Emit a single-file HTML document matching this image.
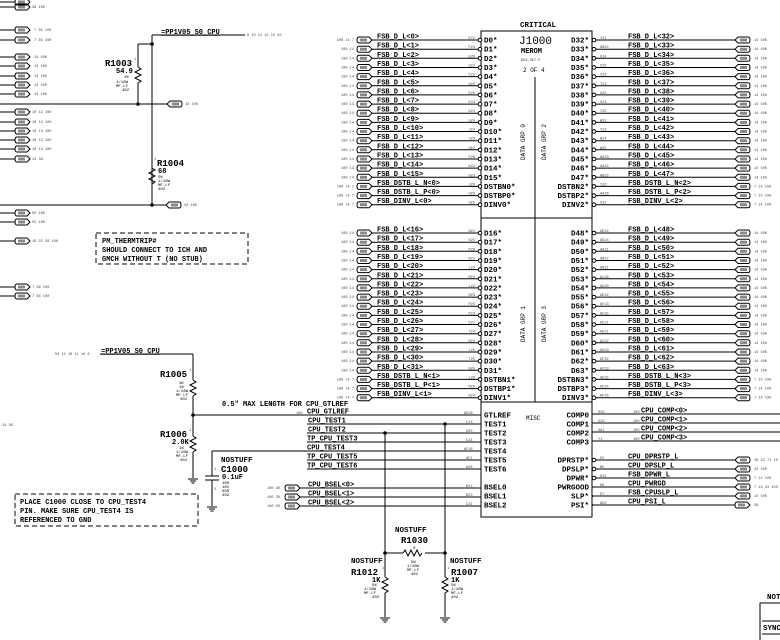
<!DOCTYPE html>
<html><head><meta charset="utf-8"><style>
html,body{margin:0;padding:0;background:#fff}
svg{display:block}
line,polyline,path,rect.b{stroke:#000;stroke-width:1;fill:none}
text{font-family:"Liberation Mono",monospace;fill:#000}
.n{font-size:7px;text-decoration:underline;font-weight:bold}
.p{font-size:7.5px;font-weight:bold}
.s{font-size:3.6px;fill:#444}
.r{font-size:9px;font-weight:bold}
.v{font-size:7px;font-weight:bold}
.t{font-size:4px}
</style></head><body>
<svg width="780" height="640" viewBox="0 0 780 640" xmlns="http://www.w3.org/2000/svg">
<defs>
<g id="c"><path d="M2,0 H12 L15,3 L12,6 H2 Q0,6 0,3 Q0,0 2,0 Z" fill="#000" stroke="#000"/><rect x="3" y="1.5" width="7" height="3" fill="#888"/></g>
<g id="cr"><path d="M3,0 H13 Q15,0 15,3 Q15,6 13,6 H3 L0,3 Z" fill="#000" stroke="#000"/><rect x="5" y="1.5" width="7" height="3" fill="#888"/></g>
<g id="gnd"><line x1="-5" y1="0" x2="5" y2="0"/><line x1="-3" y1="2" x2="3" y2="2"/><line x1="-1.5" y1="4" x2="1.5" y2="4"/></g>
</defs>

<!-- Chip -->
<text x="520" y="27" class="p">CRITICAL</text>
<rect class="b" x="481" y="31" width="111" height="486"/>
<line x1="535" y1="77" x2="535" y2="402"/>
<line x1="481" y1="218" x2="592" y2="218"/>
<line x1="481" y1="402" x2="592" y2="402"/>
<text x="519" y="44" style="font-size:11px">J1000</text>
<text x="521" y="53" style="font-size:7px;font-weight:bold">MEROM</text>
<text x="521" y="61" class="s">BGA-SKT-P</text>
<text x="523" y="72" style="font-size:6px">2 OF 4</text>
<text transform="translate(525,160) rotate(-90)" style="font-size:6px">DATA GRP 0</text>
<text transform="translate(546,160) rotate(-90)" style="font-size:6px">DATA GRP 2</text>
<text transform="translate(525,342) rotate(-90)" style="font-size:6px">DATA GRP 1</text>
<text transform="translate(546,342) rotate(-90)" style="font-size:6px">DATA GRP 3</text>
<text x="526" y="420" style="font-size:6px">MISC</text>

<!-- LEFT GROUP 0 -->
<g id="L0">
<text x="354" y="41" class="s" text-anchor="end">100 14 7</text><use href="#c" x="357" y="37"/><line x1="372" y1="40" x2="478" y2="40"/><text x="377" y="38.5" class="n">FSB_D_L&lt;0&gt;</text><text x="475" y="39" class="s" text-anchor="end">E22</text><circle cx="480" cy="40" r="1.8" fill="#fff" stroke="#000"/><text x="484" y="42.5" class="p">D0*</text>
<text x="354" y="50.2" class="s" text-anchor="end">100 14</text><use href="#c" x="357" y="46.2"/><line x1="372" y1="49.2" x2="478" y2="49.2"/><text x="377" y="47.7" class="n">FSB_D_L&lt;1&gt;</text><text x="475" y="48.2" class="s" text-anchor="end">F24</text><circle cx="480" cy="49.2" r="1.8" fill="#fff" stroke="#000"/><text x="484" y="51.7" class="p">D1*</text>
<text x="354" y="59.3" class="s" text-anchor="end">100 14</text><use href="#c" x="357" y="55.3"/><line x1="372" y1="58.3" x2="478" y2="58.3"/><text x="377" y="56.8" class="n">FSB_D_L&lt;2&gt;</text><text x="475" y="57.3" class="s" text-anchor="end">E26</text><circle cx="480" cy="58.3" r="1.8" fill="#fff" stroke="#000"/><text x="484" y="60.8" class="p">D2*</text>
<text x="354" y="68.5" class="s" text-anchor="end">100 14</text><use href="#c" x="357" y="64.5"/><line x1="372" y1="67.5" x2="478" y2="67.5"/><text x="377" y="66" class="n">FSB_D_L&lt;3&gt;</text><text x="475" y="66.5" class="s" text-anchor="end">G22</text><circle cx="480" cy="67.5" r="1.8" fill="#fff" stroke="#000"/><text x="484" y="70" class="p">D3*</text>
<text x="354" y="77.6" class="s" text-anchor="end">100 14</text><use href="#c" x="357" y="73.6"/><line x1="372" y1="76.6" x2="478" y2="76.6"/><text x="377" y="75.1" class="n">FSB_D_L&lt;4&gt;</text><text x="475" y="75.6" class="s" text-anchor="end">F23</text><circle cx="480" cy="76.6" r="1.8" fill="#fff" stroke="#000"/><text x="484" y="79.1" class="p">D4*</text>
<text x="354" y="86.8" class="s" text-anchor="end">100 14</text><use href="#c" x="357" y="82.8"/><line x1="372" y1="85.8" x2="478" y2="85.8"/><text x="377" y="84.3" class="n">FSB_D_L&lt;5&gt;</text><text x="475" y="84.8" class="s" text-anchor="end">G25</text><circle cx="480" cy="85.8" r="1.8" fill="#fff" stroke="#000"/><text x="484" y="88.3" class="p">D5*</text>
<text x="354" y="95.9" class="s" text-anchor="end">100 14</text><use href="#c" x="357" y="91.9"/><line x1="372" y1="94.9" x2="478" y2="94.9"/><text x="377" y="93.4" class="n">FSB_D_L&lt;6&gt;</text><text x="475" y="93.9" class="s" text-anchor="end">E25</text><circle cx="480" cy="94.9" r="1.8" fill="#fff" stroke="#000"/><text x="484" y="97.4" class="p">D6*</text>
<text x="354" y="105.1" class="s" text-anchor="end">100 14</text><use href="#c" x="357" y="101.1"/><line x1="372" y1="104.1" x2="478" y2="104.1"/><text x="377" y="102.6" class="n">FSB_D_L&lt;7&gt;</text><text x="475" y="103.1" class="s" text-anchor="end">E23</text><circle cx="480" cy="104.1" r="1.8" fill="#fff" stroke="#000"/><text x="484" y="106.6" class="p">D7*</text>
<text x="354" y="114.2" class="s" text-anchor="end">100 14</text><use href="#c" x="357" y="110.2"/><line x1="372" y1="113.2" x2="478" y2="113.2"/><text x="377" y="111.7" class="n">FSB_D_L&lt;8&gt;</text><text x="475" y="112.2" class="s" text-anchor="end">K24</text><circle cx="480" cy="113.2" r="1.8" fill="#fff" stroke="#000"/><text x="484" y="115.7" class="p">D8*</text>
<text x="354" y="123.4" class="s" text-anchor="end">100 14</text><use href="#c" x="357" y="119.4"/><line x1="372" y1="122.4" x2="478" y2="122.4"/><text x="377" y="120.9" class="n">FSB_D_L&lt;9&gt;</text><text x="475" y="121.4" class="s" text-anchor="end">G24</text><circle cx="480" cy="122.4" r="1.8" fill="#fff" stroke="#000"/><text x="484" y="124.9" class="p">D9*</text>
<text x="354" y="132.5" class="s" text-anchor="end">100 14</text><use href="#c" x="357" y="128.5"/><line x1="372" y1="131.5" x2="478" y2="131.5"/><text x="377" y="130" class="n">FSB_D_L&lt;10&gt;</text><text x="475" y="130.5" class="s" text-anchor="end">J24</text><circle cx="480" cy="131.5" r="1.8" fill="#fff" stroke="#000"/><text x="484" y="134" class="p">D10*</text>
<text x="354" y="141.7" class="s" text-anchor="end">100 14</text><use href="#c" x="357" y="137.7"/><line x1="372" y1="140.7" x2="478" y2="140.7"/><text x="377" y="139.2" class="n">FSB_D_L&lt;11&gt;</text><text x="475" y="139.7" class="s" text-anchor="end">J23</text><circle cx="480" cy="140.7" r="1.8" fill="#fff" stroke="#000"/><text x="484" y="143.2" class="p">D11*</text>
<text x="354" y="150.8" class="s" text-anchor="end">100 14</text><use href="#c" x="357" y="146.8"/><line x1="372" y1="149.8" x2="478" y2="149.8"/><text x="377" y="148.3" class="n">FSB_D_L&lt;12&gt;</text><text x="475" y="148.8" class="s" text-anchor="end">H22</text><circle cx="480" cy="149.8" r="1.8" fill="#fff" stroke="#000"/><text x="484" y="152.3" class="p">D12*</text>
<text x="354" y="160" class="s" text-anchor="end">100 14</text><use href="#c" x="357" y="156"/><line x1="372" y1="159" x2="478" y2="159"/><text x="377" y="157.5" class="n">FSB_D_L&lt;13&gt;</text><text x="475" y="158" class="s" text-anchor="end">F26</text><circle cx="480" cy="159" r="1.8" fill="#fff" stroke="#000"/><text x="484" y="161.5" class="p">D13*</text>
<text x="354" y="169.1" class="s" text-anchor="end">100 14</text><use href="#c" x="357" y="165.1"/><line x1="372" y1="168.1" x2="478" y2="168.1"/><text x="377" y="166.6" class="n">FSB_D_L&lt;14&gt;</text><text x="475" y="167.1" class="s" text-anchor="end">K22</text><circle cx="480" cy="168.1" r="1.8" fill="#fff" stroke="#000"/><text x="484" y="170.6" class="p">D14*</text>
<text x="354" y="178.3" class="s" text-anchor="end">100 14</text><use href="#c" x="357" y="174.3"/><line x1="372" y1="177.3" x2="478" y2="177.3"/><text x="377" y="175.8" class="n">FSB_D_L&lt;15&gt;</text><text x="475" y="176.3" class="s" text-anchor="end">H23</text><circle cx="480" cy="177.3" r="1.8" fill="#fff" stroke="#000"/><text x="484" y="179.8" class="p">D15*</text>
<text x="354" y="187.4" class="s" text-anchor="end">100 14 7</text><use href="#c" x="357" y="183.4"/><line x1="372" y1="186.4" x2="478" y2="186.4"/><text x="377" y="184.9" class="n">FSB_DSTB_L_N&lt;0&gt;</text><text x="475" y="185.4" class="s" text-anchor="end">J26</text><circle cx="480" cy="186.4" r="1.8" fill="#fff" stroke="#000"/><text x="484" y="188.9" class="p">DSTBN0*</text>
<text x="354" y="196.6" class="s" text-anchor="end">100 14 7</text><use href="#c" x="357" y="192.6"/><line x1="372" y1="195.6" x2="478" y2="195.6"/><text x="377" y="194.1" class="n">FSB_DSTB_L_P&lt;0&gt;</text><text x="475" y="194.6" class="s" text-anchor="end">H26</text><circle cx="480" cy="195.6" r="1.8" fill="#fff" stroke="#000"/><text x="484" y="198.1" class="p">DSTBP0*</text>
<text x="354" y="205.7" class="s" text-anchor="end">100 14 7</text><use href="#c" x="357" y="201.7"/><line x1="372" y1="204.7" x2="478" y2="204.7"/><text x="377" y="203.2" class="n">FSB_DINV_L&lt;0&gt;</text><text x="475" y="203.7" class="s" text-anchor="end">H25</text><circle cx="480" cy="204.7" r="1.8" fill="#fff" stroke="#000"/><text x="484" y="207.2" class="p">DINV0*</text>
</g>

<!-- LEFT GROUP 1 -->
<g>
<text x="354" y="234" class="s" text-anchor="end">100 14</text><use href="#c" x="357" y="230"/><line x1="372" y1="233" x2="478" y2="233"/><text x="377" y="231.5" class="n">FSB_D_L&lt;16&gt;</text><text x="475" y="232" class="s" text-anchor="end">N22</text><circle cx="480" cy="233" r="1.8" fill="#fff" stroke="#000"/><text x="484" y="235.5" class="p">D16*</text>
<text x="354" y="243.2" class="s" text-anchor="end">100 14</text><use href="#c" x="357" y="239.2"/><line x1="372" y1="242.2" x2="478" y2="242.2"/><text x="377" y="240.7" class="n">FSB_D_L&lt;17&gt;</text><text x="475" y="241.2" class="s" text-anchor="end">K25</text><circle cx="480" cy="242.2" r="1.8" fill="#fff" stroke="#000"/><text x="484" y="244.7" class="p">D17*</text>
<text x="354" y="252.3" class="s" text-anchor="end">100 14</text><use href="#c" x="357" y="248.3"/><line x1="372" y1="251.3" x2="478" y2="251.3"/><text x="377" y="249.8" class="n">FSB_D_L&lt;18&gt;</text><text x="475" y="250.3" class="s" text-anchor="end">P26</text><circle cx="480" cy="251.3" r="1.8" fill="#fff" stroke="#000"/><text x="484" y="253.8" class="p">D18*</text>
<text x="354" y="261.5" class="s" text-anchor="end">100 14</text><use href="#c" x="357" y="257.5"/><line x1="372" y1="260.5" x2="478" y2="260.5"/><text x="377" y="259" class="n">FSB_D_L&lt;19&gt;</text><text x="475" y="259.5" class="s" text-anchor="end">R23</text><circle cx="480" cy="260.5" r="1.8" fill="#fff" stroke="#000"/><text x="484" y="263" class="p">D19*</text>
<text x="354" y="270.6" class="s" text-anchor="end">100 14</text><use href="#c" x="357" y="266.6"/><line x1="372" y1="269.6" x2="478" y2="269.6"/><text x="377" y="268.1" class="n">FSB_D_L&lt;20&gt;</text><text x="475" y="268.6" class="s" text-anchor="end">L23</text><circle cx="480" cy="269.6" r="1.8" fill="#fff" stroke="#000"/><text x="484" y="272.1" class="p">D20*</text>
<text x="354" y="279.8" class="s" text-anchor="end">100 14</text><use href="#c" x="357" y="275.8"/><line x1="372" y1="278.8" x2="478" y2="278.8"/><text x="377" y="277.3" class="n">FSB_D_L&lt;21&gt;</text><text x="475" y="277.8" class="s" text-anchor="end">M24</text><circle cx="480" cy="278.8" r="1.8" fill="#fff" stroke="#000"/><text x="484" y="281.3" class="p">D21*</text>
<text x="354" y="288.9" class="s" text-anchor="end">100 14</text><use href="#c" x="357" y="284.9"/><line x1="372" y1="287.9" x2="478" y2="287.9"/><text x="377" y="286.4" class="n">FSB_D_L&lt;22&gt;</text><text x="475" y="286.9" class="s" text-anchor="end">L22</text><circle cx="480" cy="287.9" r="1.8" fill="#fff" stroke="#000"/><text x="484" y="290.4" class="p">D22*</text>
<text x="354" y="298.1" class="s" text-anchor="end">100 14</text><use href="#c" x="357" y="294.1"/><line x1="372" y1="297.1" x2="478" y2="297.1"/><text x="377" y="295.6" class="n">FSB_D_L&lt;23&gt;</text><text x="475" y="296.1" class="s" text-anchor="end">M23</text><circle cx="480" cy="297.1" r="1.8" fill="#fff" stroke="#000"/><text x="484" y="299.6" class="p">D23*</text>
<text x="354" y="307.2" class="s" text-anchor="end">100 14</text><use href="#c" x="357" y="303.2"/><line x1="372" y1="306.2" x2="478" y2="306.2"/><text x="377" y="304.7" class="n">FSB_D_L&lt;24&gt;</text><text x="475" y="305.2" class="s" text-anchor="end">P25</text><circle cx="480" cy="306.2" r="1.8" fill="#fff" stroke="#000"/><text x="484" y="308.7" class="p">D24*</text>
<text x="354" y="316.4" class="s" text-anchor="end">100 14</text><use href="#c" x="357" y="312.4"/><line x1="372" y1="315.4" x2="478" y2="315.4"/><text x="377" y="313.9" class="n">FSB_D_L&lt;25&gt;</text><text x="475" y="314.4" class="s" text-anchor="end">P23</text><circle cx="480" cy="315.4" r="1.8" fill="#fff" stroke="#000"/><text x="484" y="317.9" class="p">D25*</text>
<text x="354" y="325.5" class="s" text-anchor="end">100 14</text><use href="#c" x="357" y="321.5"/><line x1="372" y1="324.5" x2="478" y2="324.5"/><text x="377" y="323" class="n">FSB_D_L&lt;26&gt;</text><text x="475" y="323.5" class="s" text-anchor="end">P22</text><circle cx="480" cy="324.5" r="1.8" fill="#fff" stroke="#000"/><text x="484" y="327" class="p">D26*</text>
<text x="354" y="334.7" class="s" text-anchor="end">100 14</text><use href="#c" x="357" y="330.7"/><line x1="372" y1="333.7" x2="478" y2="333.7"/><text x="377" y="332.2" class="n">FSB_D_L&lt;27&gt;</text><text x="475" y="332.7" class="s" text-anchor="end">T24</text><circle cx="480" cy="333.7" r="1.8" fill="#fff" stroke="#000"/><text x="484" y="336.2" class="p">D27*</text>
<text x="354" y="343.8" class="s" text-anchor="end">100 14</text><use href="#c" x="357" y="339.8"/><line x1="372" y1="342.8" x2="478" y2="342.8"/><text x="377" y="341.3" class="n">FSB_D_L&lt;28&gt;</text><text x="475" y="341.8" class="s" text-anchor="end">R24</text><circle cx="480" cy="342.8" r="1.8" fill="#fff" stroke="#000"/><text x="484" y="345.3" class="p">D28*</text>
<text x="354" y="353" class="s" text-anchor="end">100 14</text><use href="#c" x="357" y="349"/><line x1="372" y1="352" x2="478" y2="352"/><text x="377" y="350.5" class="n">FSB_D_L&lt;29&gt;</text><text x="475" y="351" class="s" text-anchor="end">L25</text><circle cx="480" cy="352" r="1.8" fill="#fff" stroke="#000"/><text x="484" y="354.5" class="p">D29*</text>
<text x="354" y="362.1" class="s" text-anchor="end">100 14</text><use href="#c" x="357" y="358.1"/><line x1="372" y1="361.1" x2="478" y2="361.1"/><text x="377" y="359.6" class="n">FSB_D_L&lt;30&gt;</text><text x="475" y="360.1" class="s" text-anchor="end">T25</text><circle cx="480" cy="361.1" r="1.8" fill="#fff" stroke="#000"/><text x="484" y="363.6" class="p">D30*</text>
<text x="354" y="371.3" class="s" text-anchor="end">100 14</text><use href="#c" x="357" y="367.3"/><line x1="372" y1="370.3" x2="478" y2="370.3"/><text x="377" y="368.8" class="n">FSB_D_L&lt;31&gt;</text><text x="475" y="369.3" class="s" text-anchor="end">N25</text><circle cx="480" cy="370.3" r="1.8" fill="#fff" stroke="#000"/><text x="484" y="372.8" class="p">D31*</text>
<text x="354" y="380.4" class="s" text-anchor="end">100 14 7</text><use href="#c" x="357" y="376.4"/><line x1="372" y1="379.4" x2="478" y2="379.4"/><text x="377" y="377.9" class="n">FSB_DSTB_L_N&lt;1&gt;</text><text x="475" y="378.4" class="s" text-anchor="end">L26</text><circle cx="480" cy="379.4" r="1.8" fill="#fff" stroke="#000"/><text x="484" y="381.9" class="p">DSTBN1*</text>
<text x="354" y="389.6" class="s" text-anchor="end">100 14 7</text><use href="#c" x="357" y="385.6"/><line x1="372" y1="388.6" x2="478" y2="388.6"/><text x="377" y="387.1" class="n">FSB_DSTB_L_P&lt;1&gt;</text><text x="475" y="387.6" class="s" text-anchor="end">M26</text><circle cx="480" cy="388.6" r="1.8" fill="#fff" stroke="#000"/><text x="484" y="391.1" class="p">DSTBP1*</text>
<text x="354" y="398.7" class="s" text-anchor="end">100 14 7</text><use href="#c" x="357" y="394.7"/><line x1="372" y1="397.7" x2="478" y2="397.7"/><text x="377" y="396.2" class="n">FSB_DINV_L&lt;1&gt;</text><text x="475" y="396.7" class="s" text-anchor="end">N24</text><circle cx="480" cy="397.7" r="1.8" fill="#fff" stroke="#000"/><text x="484" y="400.2" class="p">DINV1*</text>
</g>

<!-- RIGHT GROUP 2 -->
<g>
<text x="589" y="42.5" class="p" text-anchor="end">D32*</text><circle cx="594" cy="40" r="1.8" fill="#fff" stroke="#000"/><line x1="596" y1="40" x2="735" y2="40"/><text x="600" y="39" class="s">Y22</text><text x="628" y="38.5" class="n">FSB_D_L&lt;32&gt;</text><use href="#cr" x="735" y="37"/><text x="754" y="41" class="s">14 100</text>
<text x="589" y="51.7" class="p" text-anchor="end">D33*</text><circle cx="594" cy="49.2" r="1.8" fill="#fff" stroke="#000"/><line x1="596" y1="49.2" x2="735" y2="49.2"/><text x="600" y="48.2" class="s">AB24</text><text x="628" y="47.7" class="n">FSB_D_L&lt;33&gt;</text><use href="#cr" x="735" y="46.2"/><text x="754" y="50.2" class="s">14 100</text>
<text x="589" y="60.8" class="p" text-anchor="end">D34*</text><circle cx="594" cy="58.3" r="1.8" fill="#fff" stroke="#000"/><line x1="596" y1="58.3" x2="735" y2="58.3"/><text x="600" y="57.3" class="s">V24</text><text x="628" y="56.8" class="n">FSB_D_L&lt;34&gt;</text><use href="#cr" x="735" y="55.3"/><text x="754" y="59.3" class="s">14 100</text>
<text x="589" y="70" class="p" text-anchor="end">D35*</text><circle cx="594" cy="67.5" r="1.8" fill="#fff" stroke="#000"/><line x1="596" y1="67.5" x2="735" y2="67.5"/><text x="600" y="66.5" class="s">V26</text><text x="628" y="66" class="n">FSB_D_L&lt;35&gt;</text><use href="#cr" x="735" y="64.5"/><text x="754" y="68.5" class="s">14 100</text>
<text x="589" y="79.1" class="p" text-anchor="end">D36*</text><circle cx="594" cy="76.6" r="1.8" fill="#fff" stroke="#000"/><line x1="596" y1="76.6" x2="735" y2="76.6"/><text x="600" y="75.6" class="s">V23</text><text x="628" y="75.1" class="n">FSB_D_L&lt;36&gt;</text><use href="#cr" x="735" y="73.6"/><text x="754" y="77.6" class="s">14 100</text>
<text x="589" y="88.3" class="p" text-anchor="end">D37*</text><circle cx="594" cy="85.8" r="1.8" fill="#fff" stroke="#000"/><line x1="596" y1="85.8" x2="735" y2="85.8"/><text x="600" y="84.8" class="s">T22</text><text x="628" y="84.3" class="n">FSB_D_L&lt;37&gt;</text><use href="#cr" x="735" y="82.8"/><text x="754" y="86.8" class="s">14 100</text>
<text x="589" y="97.4" class="p" text-anchor="end">D38*</text><circle cx="594" cy="94.9" r="1.8" fill="#fff" stroke="#000"/><line x1="596" y1="94.9" x2="735" y2="94.9"/><text x="600" y="93.9" class="s">U25</text><text x="628" y="93.4" class="n">FSB_D_L&lt;38&gt;</text><use href="#cr" x="735" y="91.9"/><text x="754" y="95.9" class="s">14 100</text>
<text x="589" y="106.6" class="p" text-anchor="end">D39*</text><circle cx="594" cy="104.1" r="1.8" fill="#fff" stroke="#000"/><line x1="596" y1="104.1" x2="735" y2="104.1"/><text x="600" y="103.1" class="s">U23</text><text x="628" y="102.6" class="n">FSB_D_L&lt;39&gt;</text><use href="#cr" x="735" y="101.1"/><text x="754" y="105.1" class="s">14 100</text>
<text x="589" y="115.7" class="p" text-anchor="end">D40*</text><circle cx="594" cy="113.2" r="1.8" fill="#fff" stroke="#000"/><line x1="596" y1="113.2" x2="735" y2="113.2"/><text x="600" y="112.2" class="s">Y25</text><text x="628" y="111.7" class="n">FSB_D_L&lt;40&gt;</text><use href="#cr" x="735" y="110.2"/><text x="754" y="114.2" class="s">14 100</text>
<text x="589" y="124.9" class="p" text-anchor="end">D41*</text><circle cx="594" cy="122.4" r="1.8" fill="#fff" stroke="#000"/><line x1="596" y1="122.4" x2="735" y2="122.4"/><text x="600" y="121.4" class="s">W22</text><text x="628" y="120.9" class="n">FSB_D_L&lt;41&gt;</text><use href="#cr" x="735" y="119.4"/><text x="754" y="123.4" class="s">14 100</text>
<text x="589" y="134" class="p" text-anchor="end">D42*</text><circle cx="594" cy="131.5" r="1.8" fill="#fff" stroke="#000"/><line x1="596" y1="131.5" x2="735" y2="131.5"/><text x="600" y="130.5" class="s">Y23</text><text x="628" y="130" class="n">FSB_D_L&lt;42&gt;</text><use href="#cr" x="735" y="128.5"/><text x="754" y="132.5" class="s">14 100</text>
<text x="589" y="143.2" class="p" text-anchor="end">D43*</text><circle cx="594" cy="140.7" r="1.8" fill="#fff" stroke="#000"/><line x1="596" y1="140.7" x2="735" y2="140.7"/><text x="600" y="139.7" class="s">W24</text><text x="628" y="139.2" class="n">FSB_D_L&lt;43&gt;</text><use href="#cr" x="735" y="137.7"/><text x="754" y="141.7" class="s">14 100</text>
<text x="589" y="152.3" class="p" text-anchor="end">D44*</text><circle cx="594" cy="149.8" r="1.8" fill="#fff" stroke="#000"/><line x1="596" y1="149.8" x2="735" y2="149.8"/><text x="600" y="148.8" class="s">W25</text><text x="628" y="148.3" class="n">FSB_D_L&lt;44&gt;</text><use href="#cr" x="735" y="146.8"/><text x="754" y="150.8" class="s">14 100</text>
<text x="589" y="161.5" class="p" text-anchor="end">D45*</text><circle cx="594" cy="159" r="1.8" fill="#fff" stroke="#000"/><line x1="596" y1="159" x2="735" y2="159"/><text x="600" y="158" class="s">AA23</text><text x="628" y="157.5" class="n">FSB_D_L&lt;45&gt;</text><use href="#cr" x="735" y="156"/><text x="754" y="160" class="s">14 100</text>
<text x="589" y="170.6" class="p" text-anchor="end">D46*</text><circle cx="594" cy="168.1" r="1.8" fill="#fff" stroke="#000"/><line x1="596" y1="168.1" x2="735" y2="168.1"/><text x="600" y="167.1" class="s">AA24</text><text x="628" y="166.6" class="n">FSB_D_L&lt;46&gt;</text><use href="#cr" x="735" y="165.1"/><text x="754" y="169.1" class="s">14 100</text>
<text x="589" y="179.8" class="p" text-anchor="end">D47*</text><circle cx="594" cy="177.3" r="1.8" fill="#fff" stroke="#000"/><line x1="596" y1="177.3" x2="735" y2="177.3"/><text x="600" y="176.3" class="s">AB25</text><text x="628" y="175.8" class="n">FSB_D_L&lt;47&gt;</text><use href="#cr" x="735" y="174.3"/><text x="754" y="178.3" class="s">14 100</text>
<text x="589" y="188.9" class="p" text-anchor="end">DSTBN2*</text><circle cx="594" cy="186.4" r="1.8" fill="#fff" stroke="#000"/><line x1="596" y1="186.4" x2="735" y2="186.4"/><text x="600" y="185.4" class="s">Y26</text><text x="628" y="184.9" class="n">FSB_DSTB_L_N&lt;2&gt;</text><use href="#cr" x="735" y="183.4"/><text x="754" y="187.4" class="s">7 14 100</text>
<text x="589" y="198.1" class="p" text-anchor="end">DSTBP2*</text><circle cx="594" cy="195.6" r="1.8" fill="#fff" stroke="#000"/><line x1="596" y1="195.6" x2="735" y2="195.6"/><text x="600" y="194.6" class="s">AA26</text><text x="628" y="194.1" class="n">FSB_DSTB_L_P&lt;2&gt;</text><use href="#cr" x="735" y="192.6"/><text x="754" y="196.6" class="s">7 14 100</text>
<text x="589" y="207.2" class="p" text-anchor="end">DINV2*</text><circle cx="594" cy="204.7" r="1.8" fill="#fff" stroke="#000"/><line x1="596" y1="204.7" x2="735" y2="204.7"/><text x="600" y="203.7" class="s">U22</text><text x="628" y="203.2" class="n">FSB_DINV_L&lt;2&gt;</text><use href="#cr" x="735" y="201.7"/><text x="754" y="205.7" class="s">7 14 100</text>
</g>

<!-- RIGHT GROUP 3 -->
<g>
<text x="589" y="235.5" class="p" text-anchor="end">D48*</text><circle cx="594" cy="233" r="1.8" fill="#fff" stroke="#000"/><line x1="596" y1="233" x2="735" y2="233"/><text x="600" y="232" class="s">AE24</text><text x="628" y="231.5" class="n">FSB_D_L&lt;48&gt;</text><use href="#cr" x="735" y="230"/><text x="754" y="234" class="s">14 100</text>
<text x="589" y="244.7" class="p" text-anchor="end">D49*</text><circle cx="594" cy="242.2" r="1.8" fill="#fff" stroke="#000"/><line x1="596" y1="242.2" x2="735" y2="242.2"/><text x="600" y="241.2" class="s">AD24</text><text x="628" y="240.7" class="n">FSB_D_L&lt;49&gt;</text><use href="#cr" x="735" y="239.2"/><text x="754" y="243.2" class="s">14 100</text>
<text x="589" y="253.8" class="p" text-anchor="end">D50*</text><circle cx="594" cy="251.3" r="1.8" fill="#fff" stroke="#000"/><line x1="596" y1="251.3" x2="735" y2="251.3"/><text x="600" y="250.3" class="s">AA21</text><text x="628" y="249.8" class="n">FSB_D_L&lt;50&gt;</text><use href="#cr" x="735" y="248.3"/><text x="754" y="252.3" class="s">14 100</text>
<text x="589" y="263" class="p" text-anchor="end">D51*</text><circle cx="594" cy="260.5" r="1.8" fill="#fff" stroke="#000"/><line x1="596" y1="260.5" x2="735" y2="260.5"/><text x="600" y="259.5" class="s">AB22</text><text x="628" y="259" class="n">FSB_D_L&lt;51&gt;</text><use href="#cr" x="735" y="257.5"/><text x="754" y="261.5" class="s">14 100</text>
<text x="589" y="272.1" class="p" text-anchor="end">D52*</text><circle cx="594" cy="269.6" r="1.8" fill="#fff" stroke="#000"/><line x1="596" y1="269.6" x2="735" y2="269.6"/><text x="600" y="268.6" class="s">AB21</text><text x="628" y="268.1" class="n">FSB_D_L&lt;52&gt;</text><use href="#cr" x="735" y="266.6"/><text x="754" y="270.6" class="s">14 100</text>
<text x="589" y="281.3" class="p" text-anchor="end">D53*</text><circle cx="594" cy="278.8" r="1.8" fill="#fff" stroke="#000"/><line x1="596" y1="278.8" x2="735" y2="278.8"/><text x="600" y="277.8" class="s">AC26</text><text x="628" y="277.3" class="n">FSB_D_L&lt;53&gt;</text><use href="#cr" x="735" y="275.8"/><text x="754" y="279.8" class="s">14 100</text>
<text x="589" y="290.4" class="p" text-anchor="end">D54*</text><circle cx="594" cy="287.9" r="1.8" fill="#fff" stroke="#000"/><line x1="596" y1="287.9" x2="735" y2="287.9"/><text x="600" y="286.9" class="s">AD20</text><text x="628" y="286.4" class="n">FSB_D_L&lt;54&gt;</text><use href="#cr" x="735" y="284.9"/><text x="754" y="288.9" class="s">14 100</text>
<text x="589" y="299.6" class="p" text-anchor="end">D55*</text><circle cx="594" cy="297.1" r="1.8" fill="#fff" stroke="#000"/><line x1="596" y1="297.1" x2="735" y2="297.1"/><text x="600" y="296.1" class="s">AE22</text><text x="628" y="295.6" class="n">FSB_D_L&lt;55&gt;</text><use href="#cr" x="735" y="294.1"/><text x="754" y="298.1" class="s">14 100</text>
<text x="589" y="308.7" class="p" text-anchor="end">D56*</text><circle cx="594" cy="306.2" r="1.8" fill="#fff" stroke="#000"/><line x1="596" y1="306.2" x2="735" y2="306.2"/><text x="600" y="305.2" class="s">AF23</text><text x="628" y="304.7" class="n">FSB_D_L&lt;56&gt;</text><use href="#cr" x="735" y="303.2"/><text x="754" y="307.2" class="s">14 100</text>
<text x="589" y="317.9" class="p" text-anchor="end">D57*</text><circle cx="594" cy="315.4" r="1.8" fill="#fff" stroke="#000"/><line x1="596" y1="315.4" x2="735" y2="315.4"/><text x="600" y="314.4" class="s">AC25</text><text x="628" y="313.9" class="n">FSB_D_L&lt;57&gt;</text><use href="#cr" x="735" y="312.4"/><text x="754" y="316.4" class="s">14 100</text>
<text x="589" y="327" class="p" text-anchor="end">D58*</text><circle cx="594" cy="324.5" r="1.8" fill="#fff" stroke="#000"/><line x1="596" y1="324.5" x2="735" y2="324.5"/><text x="600" y="323.5" class="s">AE21</text><text x="628" y="323" class="n">FSB_D_L&lt;58&gt;</text><use href="#cr" x="735" y="321.5"/><text x="754" y="325.5" class="s">14 100</text>
<text x="589" y="336.2" class="p" text-anchor="end">D59*</text><circle cx="594" cy="333.7" r="1.8" fill="#fff" stroke="#000"/><line x1="596" y1="333.7" x2="735" y2="333.7"/><text x="600" y="332.7" class="s">AD21</text><text x="628" y="332.2" class="n">FSB_D_L&lt;59&gt;</text><use href="#cr" x="735" y="330.7"/><text x="754" y="334.7" class="s">14 100</text>
<text x="589" y="345.3" class="p" text-anchor="end">D60*</text><circle cx="594" cy="342.8" r="1.8" fill="#fff" stroke="#000"/><line x1="596" y1="342.8" x2="735" y2="342.8"/><text x="600" y="341.8" class="s">AC22</text><text x="628" y="341.3" class="n">FSB_D_L&lt;60&gt;</text><use href="#cr" x="735" y="339.8"/><text x="754" y="343.8" class="s">14 100</text>
<text x="589" y="354.5" class="p" text-anchor="end">D61*</text><circle cx="594" cy="352" r="1.8" fill="#fff" stroke="#000"/><line x1="596" y1="352" x2="735" y2="352"/><text x="600" y="351" class="s">AD23</text><text x="628" y="350.5" class="n">FSB_D_L&lt;61&gt;</text><use href="#cr" x="735" y="349"/><text x="754" y="353" class="s">14 100</text>
<text x="589" y="363.6" class="p" text-anchor="end">D62*</text><circle cx="594" cy="361.1" r="1.8" fill="#fff" stroke="#000"/><line x1="596" y1="361.1" x2="735" y2="361.1"/><text x="600" y="360.1" class="s">AF22</text><text x="628" y="359.6" class="n">FSB_D_L&lt;62&gt;</text><use href="#cr" x="735" y="358.1"/><text x="754" y="362.1" class="s">14 100</text>
<text x="589" y="372.8" class="p" text-anchor="end">D63*</text><circle cx="594" cy="370.3" r="1.8" fill="#fff" stroke="#000"/><line x1="596" y1="370.3" x2="735" y2="370.3"/><text x="600" y="369.3" class="s">AC23</text><text x="628" y="368.8" class="n">FSB_D_L&lt;63&gt;</text><use href="#cr" x="735" y="367.3"/><text x="754" y="371.3" class="s">14 100</text>
<text x="589" y="381.9" class="p" text-anchor="end">DSTBN3*</text><circle cx="594" cy="379.4" r="1.8" fill="#fff" stroke="#000"/><line x1="596" y1="379.4" x2="735" y2="379.4"/><text x="600" y="378.4" class="s">AE25</text><text x="628" y="377.9" class="n">FSB_DSTB_L_N&lt;3&gt;</text><use href="#cr" x="735" y="376.4"/><text x="754" y="380.4" class="s">7 14 100</text>
<text x="589" y="391.1" class="p" text-anchor="end">DSTBP3*</text><circle cx="594" cy="388.6" r="1.8" fill="#fff" stroke="#000"/><line x1="596" y1="388.6" x2="735" y2="388.6"/><text x="600" y="387.6" class="s">AF24</text><text x="628" y="387.1" class="n">FSB_DSTB_L_P&lt;3&gt;</text><use href="#cr" x="735" y="385.6"/><text x="754" y="389.6" class="s">7 14 100</text>
<text x="589" y="400.2" class="p" text-anchor="end">DINV3*</text><circle cx="594" cy="397.7" r="1.8" fill="#fff" stroke="#000"/><line x1="596" y1="397.7" x2="735" y2="397.7"/><text x="600" y="396.7" class="s">AF26</text><text x="628" y="396.2" class="n">FSB_DINV_L&lt;3&gt;</text><use href="#cr" x="735" y="394.7"/><text x="754" y="398.7" class="s">7 14 100</text>
</g>

<!-- MISC left pins -->
<g>
<text x="484" y="417.5" class="p">GTLREF</text><text x="484" y="426.5" class="p">TEST1</text><text x="484" y="435.5" class="p">TEST2</text><text x="484" y="444.5" class="p">TEST3</text><text x="484" y="453.5" class="p">TEST4</text><text x="484" y="462.5" class="p">TEST5</text><text x="484" y="471.5" class="p">TEST6</text><text x="484" y="489.5" class="p">BSEL0</text><text x="484" y="498.5" class="p">BSEL1</text><text x="484" y="507.5" class="p">BSEL2</text>
<line x1="193" y1="415" x2="481" y2="415"/><text x="296" y="414" class="s">100</text><text x="307" y="413.5" class="n">CPU_GTLREF</text><text x="464" y="414" class="s">AD26</text>
<line x1="307" y1="424" x2="481" y2="424"/><text x="308" y="422.5" class="n">CPU_TEST1</text><text x="466" y="423" class="s">C23</text>
<line x1="307" y1="433" x2="481" y2="433"/><text x="308" y="431.5" class="n">CPU_TEST2</text><text x="466" y="432" class="s">D25</text>
<line x1="307" y1="442" x2="481" y2="442"/><text x="307" y="440.5" class="n">TP_CPU_TEST3</text><text x="466" y="441" class="s">C24</text>
<line x1="212" y1="451" x2="481" y2="451"/><text x="307" y="449.5" class="n">CPU_TEST4</text><text x="464" y="450" class="s">AF26</text>
<line x1="307" y1="460" x2="481" y2="460"/><text x="307" y="458.5" class="n">TP_CPU_TEST5</text><text x="466" y="459" class="s">AF1</text>
<line x1="307" y1="469" x2="481" y2="469"/><text x="307" y="467.5" class="n">TP_CPU_TEST6</text><text x="466" y="468" class="s">A26</text>
<text x="280" y="489" class="s" text-anchor="end">100 30</text><use href="#c" x="285" y="485"/><line x1="300" y1="488" x2="481" y2="488"/><text x="308" y="486.5" class="n">CPU_BSEL&lt;0&gt;</text><text x="466" y="487" class="s">B22</text>
<text x="280" y="498" class="s" text-anchor="end">100 30</text><use href="#c" x="285" y="494"/><line x1="300" y1="497" x2="481" y2="497"/><text x="308" y="495.5" class="n">CPU_BSEL&lt;1&gt;</text><text x="466" y="496" class="s">B23</text>
<text x="280" y="507" class="s" text-anchor="end">100 30</text><use href="#c" x="285" y="503"/><line x1="300" y1="506" x2="481" y2="506"/><text x="308" y="504.5" class="n">CPU_BSEL&lt;2&gt;</text><text x="466" y="505" class="s">C21</text>
</g>
<!-- MISC right pins -->
<g>
<text x="589" y="417.5" class="p" text-anchor="end">COMP0</text><text x="589" y="426.5" class="p" text-anchor="end">COMP1</text><text x="589" y="435.5" class="p" text-anchor="end">COMP2</text><text x="589" y="444.5" class="p" text-anchor="end">COMP3</text>
<line x1="592" y1="414" x2="780" y2="414"/><line x1="592" y1="423" x2="780" y2="423"/><line x1="592" y1="432" x2="780" y2="432"/><line x1="592" y1="441" x2="780" y2="441"/>
<text x="598" y="413" class="s">R26</text><text x="598" y="422" class="s">U26</text><text x="598" y="431" class="s">AA1</text><text x="598" y="440" class="s">Y1</text>
<text x="633" y="413" class="s">100</text><text x="641" y="412.5" class="n">CPU_COMP&lt;0&gt;</text>
<text x="633" y="422" class="s">100</text><text x="641" y="421.5" class="n">CPU_COMP&lt;1&gt;</text>
<text x="633" y="431" class="s">100</text><text x="641" y="430.5" class="n">CPU_COMP&lt;2&gt;</text>
<text x="633" y="440" class="s">100</text><text x="641" y="439.5" class="n">CPU_COMP&lt;3&gt;</text>
<text x="589" y="462.5" class="p" text-anchor="end">DPRSTP*</text><circle cx="594" cy="460" r="1.8" fill="#fff" stroke="#000"/><line x1="596" y1="460" x2="735" y2="460"/><text x="600" y="459" class="s">E5</text><text x="628" y="458.5" class="n">CPU_DPRSTP_L</text><use href="#cr" x="735" y="457"/><text x="754" y="461" class="s">16 22 71 10</text>
<text x="589" y="471.5" class="p" text-anchor="end">DPSLP*</text><circle cx="594" cy="469" r="1.8" fill="#fff" stroke="#000"/><line x1="596" y1="469" x2="735" y2="469"/><text x="600" y="468" class="s">B5</text><text x="628" y="467.5" class="n">CPU_DPSLP_L</text><use href="#cr" x="735" y="466"/><text x="754" y="470" class="s">23 100</text>
<text x="589" y="480.5" class="p" text-anchor="end">DPWR*</text><circle cx="594" cy="478" r="1.8" fill="#fff" stroke="#000"/><line x1="596" y1="478" x2="735" y2="478"/><text x="600" y="477" class="s">D24</text><text x="628" y="476.5" class="n">FSB_DPWR_L</text><use href="#cr" x="735" y="475"/><text x="754" y="479" class="s">7 14 100</text>
<text x="589" y="489.5" class="p" text-anchor="end">PWRGOOD</text><line x1="592" y1="487" x2="735" y2="487"/><text x="600" y="486" class="s">D6</text><text x="628" y="485.5" class="n">CPU_PWRGD</text><use href="#cr" x="735" y="484"/><text x="754" y="488" class="s">7 13 23 100</text>
<text x="589" y="498.5" class="p" text-anchor="end">SLP*</text><circle cx="593" cy="496" r="0.8" fill="#000"/><line x1="592" y1="496" x2="735" y2="496"/><text x="600" y="495" class="s">D7</text><text x="628" y="494.5" class="n">FSB_CPUSLP_L</text><use href="#cr" x="735" y="493"/><text x="754" y="497" class="s">14 100</text>
<text x="589" y="507.5" class="p" text-anchor="end">PSI*</text><circle cx="593" cy="505" r="0.8" fill="#000"/><line x1="592" y1="505" x2="735" y2="505"/><text x="600" y="504" class="s">AE6</text><text x="628" y="503.5" class="n">CPU_PSI_L</text><use href="#c" x="735" y="502"/><text x="754" y="506" class="s">39</text>
</g>

<!-- Top-left area -->
<g>
<line x1="0" y1="2" x2="15" y2="2"/><use href="#c" x="15" y="-1"/>
<line x1="0" y1="7" x2="15" y2="7"/><use href="#c" x="15" y="4"/><text x="32" y="8" class="s">36 100</text>
<line x1="0" y1="30" x2="15" y2="30"/><use href="#c" x="15" y="27"/><text x="34" y="31" class="s">7 36 100</text>
<line x1="0" y1="40" x2="15" y2="40"/><use href="#c" x="15" y="37"/><text x="34" y="41" class="s">7 36 100</text>
<line x1="0" y1="57" x2="15" y2="57"/><use href="#c" x="15" y="54"/><text x="34" y="58" class="s">13 100</text>
<line x1="0" y1="66" x2="15" y2="66"/><use href="#c" x="15" y="63"/><text x="34" y="67" class="s">13 100</text>
<line x1="0" y1="76" x2="15" y2="76"/><use href="#c" x="15" y="73"/><text x="34" y="77" class="s">13 100</text>
<line x1="0" y1="85" x2="15" y2="85"/><use href="#c" x="15" y="82"/><text x="34" y="86" class="s">13 100</text>
<line x1="0" y1="94" x2="15" y2="94"/><use href="#c" x="15" y="91"/><text x="34" y="95" class="s">13 100</text>
<line x1="0" y1="112" x2="15" y2="112"/><use href="#c" x="15" y="109"/><text x="32" y="113" class="s">10 13 100</text>
<line x1="0" y1="122" x2="15" y2="122"/><use href="#c" x="15" y="119"/><text x="32" y="123" class="s">10 13 100</text>
<line x1="0" y1="131" x2="15" y2="131"/><use href="#c" x="15" y="128"/><text x="32" y="132" class="s">10 13 100</text>
<line x1="0" y1="140" x2="15" y2="140"/><use href="#c" x="15" y="137"/><text x="32" y="141" class="s">10 13 100</text>
<line x1="0" y1="149" x2="15" y2="149"/><use href="#c" x="15" y="146"/><text x="32" y="150" class="s">10 13 100</text>
<line x1="0" y1="159" x2="15" y2="159"/><use href="#c" x="15" y="156"/><text x="32" y="160" class="s">13 38</text>
<line x1="0" y1="213" x2="15" y2="213"/><use href="#c" x="15" y="210"/><text x="32" y="214" class="s">55 100</text>
<line x1="0" y1="222" x2="15" y2="222"/><use href="#c" x="15" y="219"/><text x="32" y="223" class="s">55 100</text>
<line x1="0" y1="241" x2="15" y2="241"/><use href="#c" x="15" y="238"/><text x="32" y="242" class="s">16 22 50 100</text>
<line x1="0" y1="287" x2="15" y2="287"/><use href="#c" x="15" y="284"/><text x="32" y="288" class="s">7 36 100</text>
<line x1="0" y1="296" x2="15" y2="296"/><use href="#c" x="15" y="293"/><text x="32" y="297" class="s">7 36 100</text>
<text x="2" y="426" class="s">13 36</text>

<!-- rail 1 -->
<text x="161" y="34" class="n">=PP1V05_S0_CPU</text>
<line x1="152" y1="35" x2="245" y2="35"/><text x="247" y="36" class="s">6 10 11 12 13 50</text>
<line x1="138" y1="44" x2="152" y2="44"/><circle cx="152" cy="44" r="1.8" fill="#000"/>
<line x1="152" y1="35" x2="152" y2="205"/>
<line x1="138" y1="44" x2="138" y2="67"/>
<path d="M138,67 l3,2 l-6,3 l6,3 l-6,3 l6,3 l-3,2"/>
<line x1="138" y1="83" x2="138" y2="104"/>
<text x="105" y="66" class="r">R1003</text><text x="134" y="60" class="s">1</text>
<text x="116" y="73" class="v">54.9</text><text x="124" y="78" class="t">1%</text><text x="116" y="83" class="t">1/16W</text><text x="116" y="87" class="t">MF-LF</text><text x="122" y="91" class="t">402</text>
<line x1="0" y1="104" x2="167" y2="104"/><circle cx="138" cy="104" r="1.8" fill="#000"/>
<use href="#cr" x="167" y="101"/><text x="185" y="105" class="s">13 100</text>
<path d="M152,168 l3,2 l-6,3 l6,3 l-6,3 l6,3 l-3,2"/>
<text x="157" y="166" class="r">R1004</text><text x="154" y="160" class="s">1</text>
<text x="158" y="173" class="v">68</text><text x="158" y="178" class="t">5%</text><text x="158" y="182" class="t">1/16W</text><text x="158" y="186" class="t">MF-LF</text><text x="158" y="190" class="t">402</text>
<line x1="0" y1="205" x2="166" y2="205"/><circle cx="152" cy="205" r="1.8" fill="#000"/>
<use href="#cr" x="166" y="202"/><text x="184" y="206" class="s">20 100</text>

<!-- note box -->
<rect x="96" y="233" width="152" height="31" fill="none" stroke="#000" stroke-dasharray="5,3"/>
<text x="102" y="243" class="v">PM_THERMTRIP#</text>
<text x="102" y="252" class="v">SHOULD CONNECT TO ICH AND</text>
<text x="102" y="261" class="v">GMCH WITHOUT T (NO STUB)</text>

<!-- rail 2 -->
<text x="55" y="355" class="s">50 12 10 11 10 6</text>
<text x="101" y="353" class="n">=PP1V05_S0_CPU</text>
<line x1="100" y1="354" x2="193" y2="354"/>
<line x1="193" y1="354" x2="193" y2="380"/>
<path d="M193,380 l3,2 l-6,3 l6,3 l-6,3 l6,3 l-3,2"/>
<line x1="193" y1="396" x2="193" y2="436"/>
<text x="160" y="377" class="r">R1005</text><text x="189" y="371" class="s">1</text>
<text x="179" y="384" class="t">1K</text><text x="179" y="388" class="t">1%</text><text x="176" y="392" class="t">1/16W</text><text x="176" y="396" class="t">MF-LF</text><text x="180" y="400" class="t">402</text>
<circle cx="193" cy="415" r="1.8" fill="#000"/>
<text x="222" y="406" class="v">0.5" MAX LENGTH FOR CPU_GTLREF</text>
<path d="M193,436 l3,2 l-6,3 l6,3 l-6,3 l6,3 l-3,2"/>
<line x1="193" y1="452" x2="193" y2="478"/>
<text x="160" y="437" class="r">R1006</text><text x="189" y="431" class="s">1</text>
<text x="172" y="444" class="v">2.0K</text><text x="179" y="449" class="t">1%</text><text x="176" y="453" class="t">1/16W</text><text x="176" y="457" class="t">MF-LF</text><text x="180" y="461" class="t">402</text>
<use href="#gnd" x="193" y="479"/>

<!-- C1000 -->
<line x1="212" y1="451" x2="212" y2="476"/>
<line x1="205" y1="476" x2="219" y2="476"/><line x1="205" y1="480" x2="219" y2="480"/>
<line x1="212" y1="480" x2="212" y2="506"/><use href="#gnd" x="212" y="507"/>
<text x="221" y="462" class="p">NOSTUFF</text>
<text x="221" y="472" class="r">C1000</text>
<text x="222" y="479" class="v">0.1uF</text>
<text x="222" y="484" class="t">10%</text><text x="222" y="488" class="t">16V</text><text x="222" y="492" class="t">X5R</text><text x="222" y="496" class="t">402</text>
<text x="214" y="470" class="s">1</text><text x="214" y="490" class="s">2</text>
<rect x="15" y="494" width="183" height="32" fill="none" stroke="#000" stroke-dasharray="5,3"/>
<text x="20" y="504" class="v">PLACE C1000 CLOSE TO CPU_TEST4</text>
<text x="20" y="513" class="v">PIN. MAKE SURE CPU_TEST4 IS</text>
<text x="20" y="522" class="v">REFERENCED TO GND</text>

<!-- R1030/R1012/R1007 -->
<line x1="385" y1="433" x2="385" y2="577"/><circle cx="385" cy="433" r="1.8" fill="#000"/>
<line x1="445" y1="424" x2="445" y2="577"/><circle cx="445" cy="424" r="1.8" fill="#000"/>
<line x1="385" y1="553" x2="403" y2="553"/>
<path d="M403,553 l2,-3 l3,6 l3,-6 l3,6 l3,-6 l3,6 l2,-3"/>
<line x1="425" y1="553" x2="445" y2="553"/>
<circle cx="385" cy="553" r="1.8" fill="#000"/><circle cx="445" cy="553" r="1.8" fill="#000"/>
<text x="395" y="532" class="p">NOSTUFF</text>
<text x="401" y="543" class="r">R1030</text>
<text x="413" y="549" class="t">0</text><text x="411" y="563" class="t">5%</text><text x="407" y="567" class="t">1/16W</text><text x="407" y="571" class="t">MF-LF</text><text x="411" y="575" class="t">402</text>
<path d="M385,577 l3,2 l-6,3 l6,3 l-6,3 l6,3 l-3,2"/><line x1="385" y1="593" x2="385" y2="617"/><use href="#gnd" x="385" y="618"/>
<path d="M445,577 l3,2 l-6,3 l6,3 l-6,3 l6,3 l-3,2"/><line x1="445" y1="593" x2="445" y2="617"/><use href="#gnd" x="445" y="618"/>
<text x="351" y="563" class="p">NOSTUFF</text><text x="351" y="575" class="r">R1012</text><text x="382" y="569" class="s">1</text>
<text x="372" y="582" class="v">1K</text><text x="372" y="586" class="t">5%</text><text x="364" y="590" class="t">1/16W</text><text x="364" y="594" class="t">MF-LF</text><text x="372" y="598" class="t">402</text>
<text x="450" y="563" class="p">NOSTUFF</text><text x="451" y="575" class="r">R1007</text><text x="447" y="569" class="s">1</text>
<text x="451" y="582" class="v">1K</text><text x="451" y="586" class="t">5%</text><text x="451" y="590" class="t">1/16W</text><text x="451" y="594" class="t">MF-LF</text><text x="451" y="598" class="t">402</text>

<!-- bottom right partial -->
<text x="767" y="599" class="p">NOT</text>
<rect class="b" x="760" y="603" width="30" height="45"/>
<line x1="762" y1="621" x2="780" y2="621"/>
<text x="763" y="630" class="p">SYNC</text>
<line x1="762" y1="634" x2="780" y2="634"/>
</g>
</svg>
</body></html>
